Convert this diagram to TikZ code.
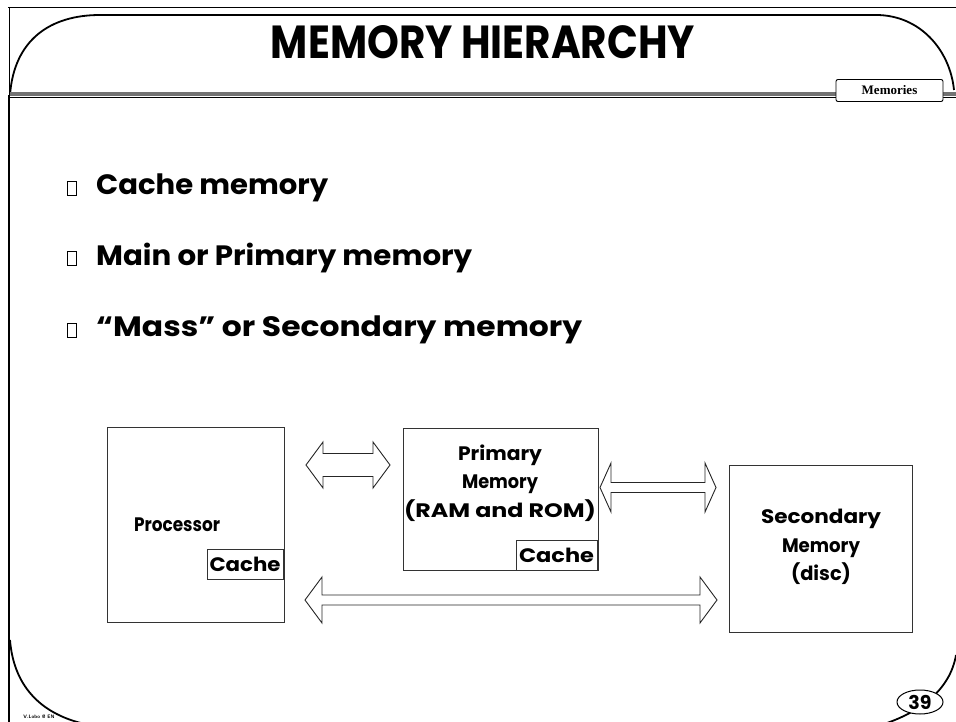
\documentclass[tikz,border=0pt]{standalone}
\usepackage{fontspec}
\setmainfont{Poppins}
\newfontfamily\serifbf{Liberation Serif}
\usetikzlibrary{calc,shapes.geometric}
\newcommand{\sw}[2]{\resizebox{#1}{\height}{#2}}
\tikzset{
  box/.style={draw=black!80, line width=0.9pt},
  cachebox/.style={draw=black!80, line width=0.9pt, fill=white, inner sep=0pt},
  bullettext/.style={anchor=west, inner sep=0pt, font=\bfseries\fontsize{28}{30}\selectfont},
  boxtext/.style={align=center, inner sep=0pt, font=\bfseries\fontsize{19.5}{28.5}\selectfont},
  blockarrow/.style={draw=black!85, line width=0.9pt, fill=white, line join=miter},
  frameline/.style={line width=1.8pt},
}
\begin{document}
\begin{tikzpicture}[x=1pt,y=-1pt]
\useasboundingbox (0,0) rectangle (956,722);
% --- frame
\draw[line width=0.9pt] (8,7) -- (956,7);
\draw[line width=0.9pt] (9,7) -- (9,95);
\draw[frameline] (9,95) -- (9,722);
\draw[frameline] (10,95) .. controls (14,40) and (50,15) .. (100,15) -- (876,15) .. controls (920,15) and (950,50) .. (954,90);
% double rule
\fill[black!55] (10,92) rectangle (836,96);
\draw[line width=0.8pt] (10,97.5) -- (836,97.5);
\fill[black!55] (943,92) rectangle (956,96);
\draw[line width=0.8pt] (943,97.5) -- (956,97.5);
\node[draw, line width=0.9pt, rounded corners=2pt, minimum width=107pt, minimum height=22pt, inner sep=0pt, fill=white,
      font=\serifbf\bfseries\fontsize{13}{14}\selectfont] (tag) at (889.5,90.5) {Memories};
% bottom curves
\draw[frameline] (10,640) .. controls (14,690) and (45,715) .. (85,724);
\draw[frameline] (956,655) .. controls (950,690) and (920,712) .. (884,724);
\node[font=\sffamily\bfseries\fontsize{5}{6}\selectfont, inner sep=0pt] (author) at (39,717) {V.Lobo @ EN};
\node[draw, ellipse, line width=1pt, fill=white, minimum width=46pt, minimum height=24pt, inner sep=0pt,
      font=\bfseries\fontsize{19}{20}\selectfont] (page) at (920,702) {39};
% --- title
\node[inner sep=0pt] (title) at (483,42) {\resizebox{424pt}{33pt}{\bfseries MEMORY HIERARCHY}};
% --- bullets
\draw[line width=0.8pt] (67,181) rectangle (76,195);
\node[bullettext] (b1) at (96,188) {\sw{232pt}{Cache memory}};
\draw[line width=0.8pt] (67,251) rectangle (76,265);
\node[bullettext] (b2) at (96,258) {\sw{376pt}{Main or Primary memory}};
\draw[line width=0.8pt] (67,323) rectangle (76,337);
\node[bullettext] (b3) at (96,330) {\sw{486pt}{``Mass'' or Secondary memory}};
% --- boxes
\node[box, minimum width=177pt, minimum height=195pt, inner sep=0pt] (proc) at (196,525) {};
\node[boxtext] (proclabel) at (177,525) {\sw{86pt}{Processor}};
\node[cachebox, minimum width=76pt, minimum height=30pt] (pcache) at (245,564) {\bfseries\fontsize{19.5}{20}\selectfont\sw{71pt}{Cache}};
\node[box, minimum width=195pt, minimum height=142pt, inner sep=0pt] (prim) at (500.5,499) {};
\node[boxtext] (primlabel) at (500,483) {\sw{84pt}{Primary}\\\sw{76pt}{Memory}\\\sw{192pt}{(RAM and ROM)}};
\node[cachebox, minimum width=81pt, minimum height=30pt] (mcache) at (556.5,555) {\bfseries\fontsize{19.5}{20}\selectfont\sw{75pt}{Cache}};
\node[box, minimum width=183pt, minimum height=167pt, inner sep=0pt] (sec) at (820.5,548.5) {};
\node[boxtext] (seclabel) at (821,547) {\sw{120pt}{Secondary}\\\sw{78pt}{Memory}\\\sw{60pt}{(disc)}};
% --- block arrows
% processor <-> primary
\coordinate (a1l) at (306,465);
\coordinate (a1r) at (390,465);
\draw[blockarrow] (a1l) -- ++(17,-23) -- ++(0,11.5) -- ($(a1r)+(-17,-11.5)$) -- ++(0,-11.5) -- (a1r)
  -- ++(-17,23) -- ++(0,-11.5) -- ($(a1l)+(17,11.5)$) -- ++(0,11.5) -- cycle;
% primary <-> secondary
\coordinate (a2l) at (600,487.5);
\coordinate (a2r) at (716,487.5);
\draw[blockarrow] (a2l) -- ++(11,-24.5) -- ++(0,19.5) -- ($(a2r)+(-11,-5)$) -- ++(0,-19.5) -- (a2r)
  -- ++(-11,24.5) -- ++(0,-19.5) -- ($(a2l)+(11,5)$) -- ++(0,19.5) -- cycle;
% processor <-> secondary
\coordinate (a3l) at (305,600);
\coordinate (a3r) at (717,600);
\draw[blockarrow] (a3l) -- ++(17,-23) -- ++(0,18) -- ($(a3r)+(-17,-5)$) -- ++(0,-18) -- (a3r)
  -- ++(-17,23) -- ++(0,-18) -- ($(a3l)+(17,5)$) -- ++(0,18) -- cycle;
\end{tikzpicture}
\end{document}
